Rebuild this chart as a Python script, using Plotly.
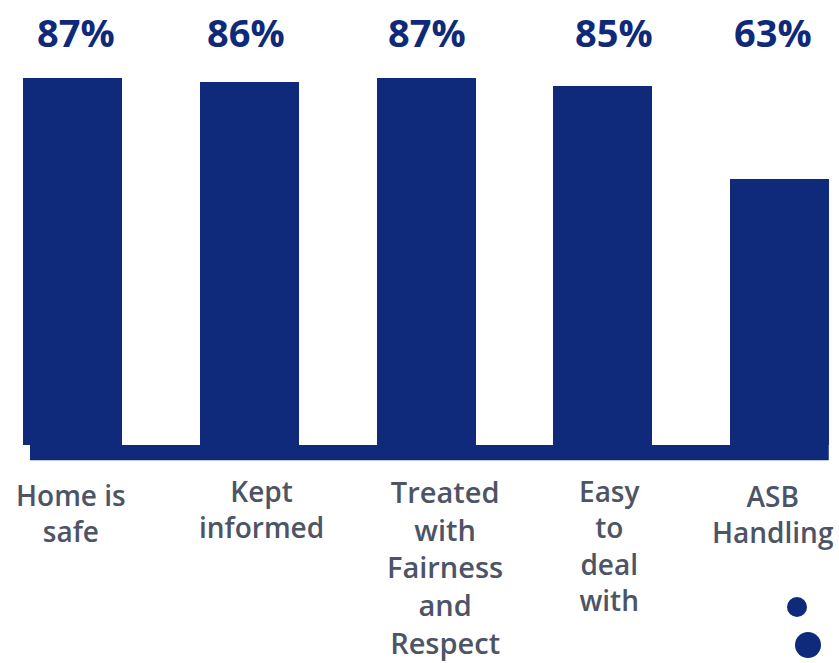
import plotly.graph_objects as go

categories = ["Home is safe", "Kept informed", "Treated with Fairness and Respect", "Easy to deal with", "ASB Handling"]
tick_labels = ["Home is<br>safe", "Kept<br>informed", "Treated<br>with<br>Fairness<br>and<br>Respect", "Easy<br>to<br>deal<br>with", "ASB<br>Handling"]
values = [87, 86, 87, 85, 63]
value_labels = [f"{v}%" for v in values]

NAVY = "#0f2a7a"
GRAY = "#4d5466"
W, H = 839, 663

fig = go.Figure()
fig.add_trace(go.Bar(
    x=categories, y=values, width=0.56,
    marker=dict(color=NAVY, line=dict(width=0)),
    hoverinfo="skip",
))

# percent labels, fixed row at the top
label_xshift = [3, -4, 1, 11, -6]
for c, t, s in zip(categories, value_labels, label_xshift):
    fig.add_annotation(x=c, y=1 - 32 / H, xref="x", yref="paper", text=t,
                       showarrow=False, yanchor="middle", xshift=s,
                       font=dict(family="Open Sans", size=38, color=NAVY, weight="bold"))

# category labels below baseline
cat_xshift = [-2, 12, 19, 7, -6]
cat_top = [474, 470, 470, 470, 475]
cat_size = [28, 28, 29, 28, 28]
for c, t, s, top, fs in zip(categories, tick_labels, cat_xshift, cat_top, cat_size):
    fig.add_annotation(x=c, y=1 - top / H, xref="x", yref="paper", text=t,
                       showarrow=False, yanchor="top", xshift=s,
                       font=dict(family="Open Sans", size=fs, color=GRAY, weight=600))

shapes = [
    # baseline strip
    dict(type="rect", xref="x", yref="y", x0=-0.243, x1=4.28, y0=-3.6, y1=0,
         fillcolor=NAVY, line=dict(width=0), layer="below"),
    # decorative dots
    dict(type="circle", xref="paper", yref="paper",
         x0=(797 - 10) / W, x1=(797 + 10) / W, y0=1 - (607 + 10) / H, y1=1 - (607 - 10) / H,
         fillcolor=NAVY, line=dict(width=0)),
    dict(type="circle", xref="paper", yref="paper",
         x0=(808 - 13) / W, x1=(808 + 13) / W, y0=1 - (645 + 13) / H, y1=1 - (645 - 13) / H,
         fillcolor=NAVY, line=dict(width=0)),
]

fig.update_layout(
    width=W, height=H,
    margin=dict(l=0, r=0, t=0, b=0),
    paper_bgcolor="white", plot_bgcolor="white",
    showlegend=False,
    bargap=0,
    shapes=shapes,
    xaxis=dict(type="category", range=[-0.4128, 4.338], showticklabels=False,
               showgrid=False, zeroline=False, showline=False, fixedrange=True),
    yaxis=dict(range=[-51.68, 105.49], showticklabels=False, showgrid=False,
               zeroline=False, showline=False, fixedrange=True),
)

fig.write_html("out.html")
